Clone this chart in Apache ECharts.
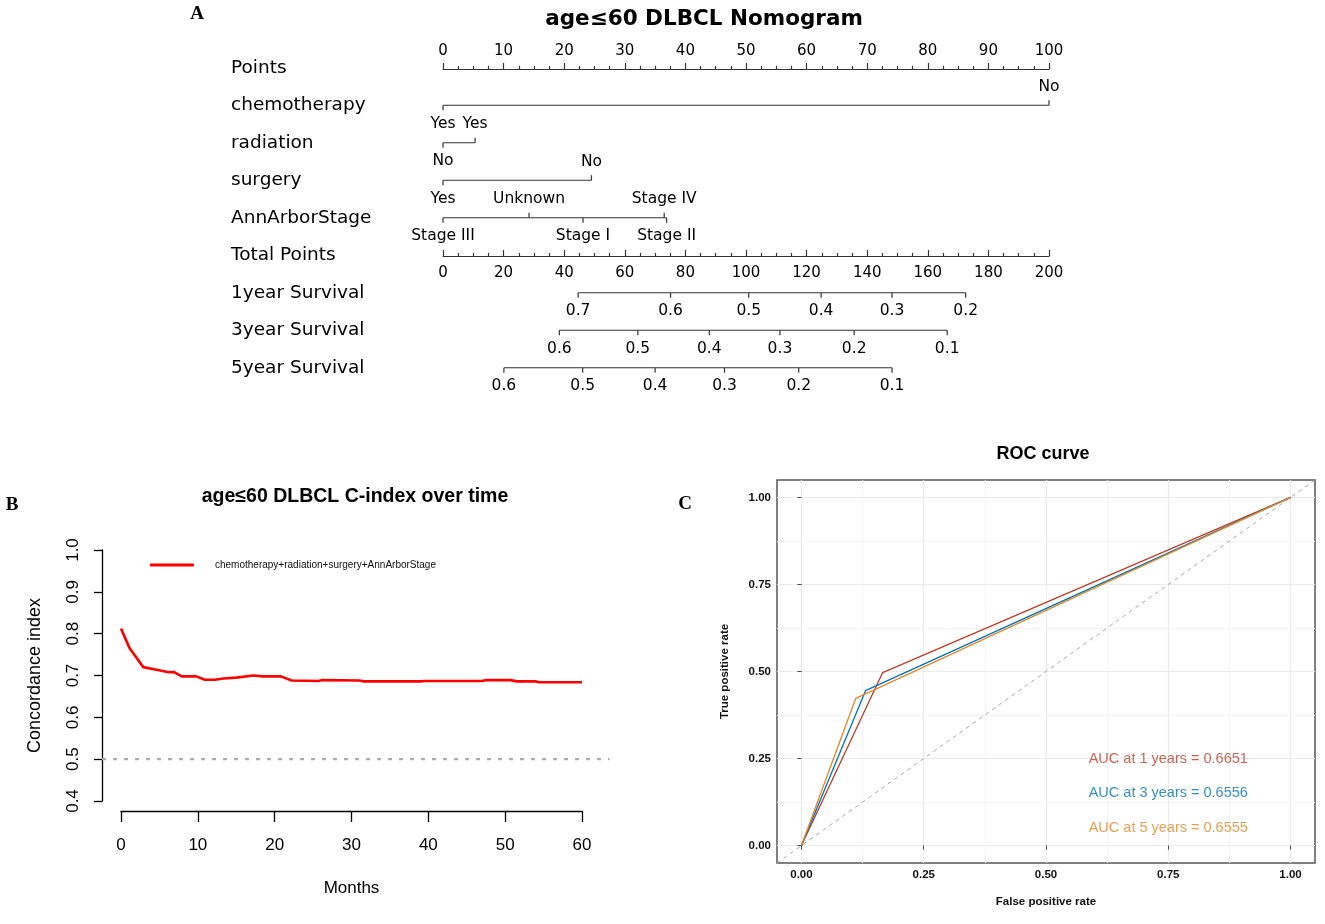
<!DOCTYPE html>
<html><head><meta charset="utf-8">
<script src="https://cdn.jsdelivr.net/npm/echarts@6/dist/echarts.min.js"></script>
<style>html,body{margin:0;padding:0;background:#fff}#c{width:1325px;height:924px}</style>
</head><body><div id="c"></div>
<script>
// ---------------- DATA ----------------
// Panel A: nomogram
const rowNames = ['Points','chemotherapy','radiation','surgery','AnnArborStage','Total Points','1year Survival','3year Survival','5year Survival'];
const chemoLevels = ['Yes','No'];
const chemoPoints = [0, 100];
const radiationLevels = ['No','Yes'];
const radiationPoints = [0, 5.3];
const surgeryLevels = ['Yes','No'];
const surgeryPoints = [0, 24.5];
const stageLevels = ['Stage III','Unknown','Stage I','Stage IV','Stage II'];
const stagePoints = [0, 14.2, 23.1, 36.5, 36.9];
const surv1Labels = ['0.7','0.6','0.5','0.4','0.3','0.2'];
const surv1Total = [44.6, 75.1, 100.9, 124.8, 148.2, 172.5];
const surv3Labels = ['0.6','0.5','0.4','0.3','0.2','0.1'];
const surv3Total = [38.4, 64.3, 87.9, 111.2, 135.7, 166.4];
const surv5Labels = ['0.6','0.5','0.4','0.3','0.2','0.1'];
const surv5Total = [20.1, 46.1, 70.0, 92.9, 117.4, 148.2];

// Panel B: C-index over time
const months = [0, 1.1, 2.9, 5.1, 6.2, 6.9, 7.9, 9.8, 10.9, 12.2, 13.3, 15.0, 17.2, 18.5, 20.8, 22.2, 25.7, 26.2, 31.0, 31.6, 39.0, 39.5, 47.0, 47.5, 50.7, 51.5, 53.9, 54.4, 60];
const cIndex = [0.812, 0.766, 0.720, 0.712, 0.708, 0.708, 0.698, 0.698, 0.690, 0.690, 0.693, 0.695, 0.700, 0.698, 0.698, 0.688, 0.687, 0.689, 0.688, 0.686, 0.686, 0.687, 0.687, 0.689, 0.689, 0.686, 0.686, 0.684, 0.684];
const modelName = 'chemotherapy+radiation+surgery+AnnArborStage';
const refCIndex = 0.5;
const usrMonths = [-2.47, 63.6];

// Panel C: ROC
const fpr1 = [0, 0.166, 1], tpr1 = [0, 0.497, 1];
const fpr3 = [0, 0.131, 1], tpr3 = [0, 0.445, 1];
const fpr5 = [0, 0.111, 1], tpr5 = [0, 0.423, 1];
const aucYears = [1, 3, 5];
const aucValues = ['0.6651', '0.6556', '0.6555'];
const rocTicks = [0, 0.25, 0.5, 0.75, 1];
const rocMinor = [0.125, 0.375, 0.625, 0.875];

// ---------------- STYLE / LAYOUT ----------------
const NF = 'DejaVu Sans';
const AF = 'Liberation Sans, Arial, sans-serif';
const rocColors = ['#BC3C29', '#0072B5', '#E18727'];
const aucAnnotY = [0.25, 0.15, 0.05];
const TICK = 5, LAB = 18.5;
// panel B plotting region in pixels: months 0..60 -> 121..582
const bLeft = 121, bWidth = 461, pxPerMonth = bWidth / 60;

function nomoRow(name, rowIdx, xIdx, pts, labels, allBelow) {
  const order = pts.map((p, i) => i).sort((a, b) => pts[a] - pts[b]);
  const side = [];
  order.forEach((idx, k) => { side[idx] = allBelow ? 1 : (k % 2 === 0 ? 1 : -1); });
  const lo = Math.min.apply(null, pts), hi = Math.max.apply(null, pts);
  return {
    type: 'custom', name: name, xAxisIndex: xIdx, yAxisIndex: 1, silent: true,
    data: pts.map((p, i) => [p, rowIdx, i]),
    renderItem: function (params, api) {
      const i = api.value(2);
      const p = api.coord([api.value(0), rowIdx]);
      const s = side[i];
      const ch = [];
      if (i === 0) {
        const a = api.coord([lo, rowIdx]), b = api.coord([hi, rowIdx]);
        ch.push({ type: 'line', shape: { x1: a[0], y1: a[1], x2: b[0], y2: b[1] }, style: { stroke: '#333', lineWidth: 1.2 } });
      }
      ch.push({ type: 'line', shape: { x1: p[0], y1: p[1], x2: p[0], y2: p[1] + s * TICK }, style: { stroke: '#333', lineWidth: 1.2 } });
      ch.push({ type: 'text', x: p[0], y: p[1] + s * LAB, style: { text: labels[i], align: 'center', verticalAlign: 'middle', fontFamily: NF, fontSize: 15.5, fill: '#000' } });
      return { type: 'group', children: ch };
    }
  };
}

function pairs(xs, ys) { return xs.map((x, i) => [x, ys[i]]); }

const chart = echarts.init(document.getElementById('c'), null, { renderer: 'canvas', width: 1325, height: 924 });

const option = {
  animation: false,
  backgroundColor: '#fff',
  graphic: [
    { type: 'text', x: 197, y: 14, style: { text: 'A', font: 'bold 19px "Liberation Serif", serif', fill: '#000', align: 'center', verticalAlign: 'middle' } },
    { type: 'text', x: 704, y: 19, style: { text: 'age≤60 DLBCL Nomogram', font: 'bold 21.5px "DejaVu Sans"', fill: '#000', align: 'center', verticalAlign: 'middle' } },
    { type: 'text', x: 12, y: 505, style: { text: 'B', font: 'bold 19px "Liberation Serif", serif', fill: '#000', align: 'center', verticalAlign: 'middle' } },
    { type: 'text', x: 355, y: 497, style: { text: 'age≤60 DLBCL C-index over time', font: 'bold 19.5px "Liberation Sans"', fill: '#000', align: 'center', verticalAlign: 'middle' } },
    { type: 'text', x: 685, y: 504, style: { text: 'C', font: 'bold 19px "Liberation Serif", serif', fill: '#000', align: 'center', verticalAlign: 'middle' } },
    { type: 'text', x: 1043, y: 454, style: { text: 'ROC curve', font: 'bold 18px "Liberation Sans"', fill: '#000', align: 'center', verticalAlign: 'middle' } }
  ],
  legend: {
    left: 150, top: 560, padding: 0, itemWidth: 44, itemHeight: 3, icon: 'rect',
    data: [modelName],
    textStyle: { fontFamily: AF, fontSize: 10, color: '#111', padding: [0, 0, 0, 16] }
  },
  grid: [
    { left: 443, top: 68, width: 606, height: 1 },
    { left: 443, top: 49, width: 606, height: 337.5 },
    { left: 443, top: 255, width: 606, height: 1 },
    { left: bLeft, top: 550, width: bWidth, height: 251 },
    { left: 777, top: 480, width: 538, height: 383, show: true, borderColor: '#555', borderWidth: 1.5, backgroundColor: 'transparent' },
    // panel B full user region (for the reference line spanning the plot region)
    { left: bLeft + usrMonths[0] * pxPerMonth, top: 550, width: (usrMonths[1] - usrMonths[0]) * pxPerMonth, height: 251 }
  ],
  xAxis: [
    { gridIndex: 0, type: 'value', position: 'top', min: 0, max: 100, interval: 10,
      axisLine: { lineStyle: { color: '#333', width: 1.2 } },
      axisTick: { length: 6, lineStyle: { color: '#333', width: 1.2 } },
      minorTick: { show: true, splitNumber: 4, length: 3, lineStyle: { color: '#333', width: 1.2 } },
      axisLabel: { margin: 9, fontFamily: NF, fontSize: 15, color: '#000' },
      splitLine: { show: false } },
    { gridIndex: 1, type: 'value', min: 0, max: 100, show: false },
    { gridIndex: 1, type: 'value', min: 0, max: 200, show: false },
    { gridIndex: 2, type: 'value', position: 'bottom', min: 0, max: 200, interval: 20,
      axisLine: { lineStyle: { color: '#333', width: 1.2 } },
      axisTick: { inside: true, length: 6, lineStyle: { color: '#333', width: 1.2 } },
      minorTick: { show: true, splitNumber: 4, length: 3, lineStyle: { color: '#333', width: 1.2 } },
      axisLabel: { margin: 10, fontFamily: NF, fontSize: 15, color: '#000' },
      splitLine: { show: false } },
    { gridIndex: 3, type: 'value', position: 'bottom', min: 0, max: 60, interval: 10, offset: 10,
      axisLine: { onZero: false, lineStyle: { color: '#000', width: 1.3 } },
      axisTick: { length: 11, lineStyle: { color: '#000', width: 1.3 } },
      axisLabel: { margin: 26, fontFamily: AF, fontSize: 17, color: '#000' },
      splitLine: { show: false },
      name: 'Months', nameLocation: 'middle', nameGap: 69,
      nameTextStyle: { fontFamily: AF, fontSize: 17, color: '#000' } },
    { gridIndex: 4, type: 'value', min: -0.05, max: 1.05,
      axisLine: { show: false },
      axisTick: { customValues: rocTicks, length: 4, lineStyle: { color: '#444' } },
      axisLabel: { customValues: rocTicks, margin: 6, formatter: v => v.toFixed(2), fontFamily: AF, fontWeight: 'bold', fontSize: 11.5, color: '#111' },
      splitLine: { show: true, lineStyle: { color: '#EBEBEB', width: 1.2 } },
      name: 'False positive rate', nameLocation: 'middle', nameGap: 33,
      nameTextStyle: { fontFamily: AF, fontWeight: 'bold', fontSize: 11.5, color: '#111' } },
    { gridIndex: 4, type: 'value', min: -0.05, max: 1.05,
      axisLine: { show: false },
      axisTick: { show: false, customValues: rocMinor },
      axisLabel: { show: false },
      splitLine: { show: true, lineStyle: { color: '#F4F4F4', width: 1 } } },
    { gridIndex: 5, type: 'value', min: usrMonths[0], max: usrMonths[1], show: false }
  ],
  yAxis: [
    { gridIndex: 0, type: 'value', show: false },
    { gridIndex: 1, type: 'category', data: rowNames, inverse: true,
      axisLine: { show: false }, axisTick: { show: false }, splitLine: { show: false },
      axisLabel: { align: 'left', margin: 212, padding: [6, 0, 0, 0], fontFamily: NF, fontSize: 18.5, color: '#000' } },
    { gridIndex: 2, type: 'value', show: false },
    { gridIndex: 3, type: 'value', min: 0.4, max: 1.0, interval: 0.1, offset: 19,
      axisLine: { show: true, onZero: false, lineStyle: { color: '#000', width: 1.3 } },
      axisTick: { show: true, length: 8, lineStyle: { color: '#000', width: 1.3 } },
      axisLabel: { rotate: 90, margin: 20, formatter: v => v.toFixed(1), fontFamily: AF, fontSize: 17, color: '#000' },
      splitLine: { show: false },
      name: 'Concordance index', nameLocation: 'middle', nameGap: 58,
      nameTextStyle: { fontFamily: AF, fontSize: 18, color: '#000' } },
    { gridIndex: 4, type: 'value', min: -0.05, max: 1.05,
      axisLine: { show: false },
      axisTick: { customValues: rocTicks, length: 4, lineStyle: { color: '#444' } },
      axisLabel: { customValues: rocTicks, margin: 6, formatter: v => v.toFixed(2), fontFamily: AF, fontWeight: 'bold', fontSize: 11.5, color: '#111' },
      splitLine: { show: true, lineStyle: { color: '#EBEBEB', width: 1.2 } },
      name: 'True positive rate', nameLocation: 'middle', nameGap: 46,
      nameTextStyle: { fontFamily: AF, fontWeight: 'bold', fontSize: 11.5, color: '#111' } },
    { gridIndex: 4, type: 'value', min: -0.05, max: 1.05,
      axisLine: { show: false },
      axisTick: { show: false, customValues: rocMinor },
      axisLabel: { show: false },
      splitLine: { show: true, lineStyle: { color: '#F4F4F4', width: 1 } } },
    { gridIndex: 5, type: 'value', min: 0.4, max: 1.0, show: false }
  ],
  series: [
    nomoRow('chemotherapy', 1, 1, chemoPoints, chemoLevels, false),
    nomoRow('radiation', 2, 1, radiationPoints, radiationLevels, false),
    nomoRow('surgery', 3, 1, surgeryPoints, surgeryLevels, false),
    nomoRow('AnnArborStage', 4, 1, stagePoints, stageLevels, false),
    nomoRow('1year Survival', 6, 2, surv1Total, surv1Labels, true),
    nomoRow('3year Survival', 7, 2, surv3Total, surv3Labels, true),
    nomoRow('5year Survival', 8, 2, surv5Total, surv5Labels, true),
    { type: 'line', name: 'ref', xAxisIndex: 7, yAxisIndex: 6, silent: true,
      data: [[usrMonths[0], refCIndex], [usrMonths[1], refCIndex]], showSymbol: false, symbol: 'none',
      lineStyle: { color: '#ADADAD', width: 2.2, type: [4, 7] } },
    { type: 'line', name: modelName, xAxisIndex: 4, yAxisIndex: 3, data: pairs(months, cIndex),
      showSymbol: false, symbol: 'none', color: '#FF0000', lineStyle: { color: '#FF0000', width: 2.6 } },
    { type: 'line', name: 'diag', xAxisIndex: 5, yAxisIndex: 4, silent: true,
      data: [[-0.05, -0.05], [1.05, 1.05]], showSymbol: false, symbol: 'none',
      lineStyle: { color: '#A8A8A8', width: 1, type: [4, 4] } },
    { type: 'line', name: 'AUC 1', xAxisIndex: 5, yAxisIndex: 4, data: pairs(fpr1, tpr1), showSymbol: false, symbol: 'none', lineStyle: { color: rocColors[0], width: 1.3 } },
    { type: 'line', name: 'AUC 3', xAxisIndex: 5, yAxisIndex: 4, data: pairs(fpr3, tpr3), showSymbol: false, symbol: 'none', lineStyle: { color: rocColors[1], width: 1.3 } },
    { type: 'line', name: 'AUC 5', xAxisIndex: 5, yAxisIndex: 4, data: pairs(fpr5, tpr5), showSymbol: false, symbol: 'none', lineStyle: { color: rocColors[2], width: 1.3 } }
  ].concat(aucYears.map((yr, i) => ({
    type: 'scatter', name: 'label' + yr, xAxisIndex: 5, yAxisIndex: 4, silent: true,
    symbol: 'circle', symbolSize: 0.1, itemStyle: { color: 'transparent' },
    data: [[0.75, aucAnnotY[i]]],
    label: { show: true, position: 'inside', formatter: 'AUC at ' + yr + ' years = ' + aucValues[i],
      fontFamily: AF, fontSize: 14.5, color: rocColors[i] }
  })))
};
chart.setOption(option);
</script>
</body></html>
